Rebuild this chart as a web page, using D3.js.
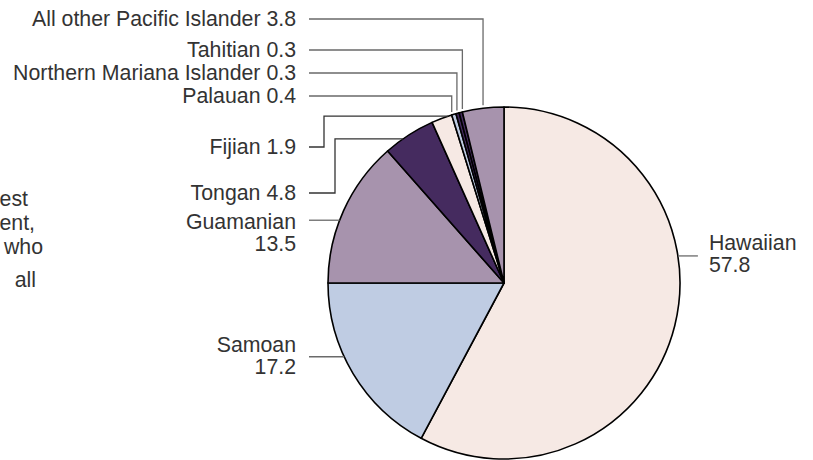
<!DOCTYPE html>
<html>
<head>
<meta charset="utf-8">
<script src="https://cdn.jsdelivr.net/npm/d3@7"></script>
<style>
  html, body { margin: 0; padding: 0; background: #ffffff; }
  svg { display: block; }
  text { font-family: "Liberation Sans", Arial, Helvetica, sans-serif; fill: #333333; }
</style>
</head>
<body>
<svg id="chart" width="813" height="460"></svg>
<script>
// ---- data ----
const categories = ["Hawaiian", "Samoan", "Guamanian", "Tongan", "Fijian", "Palauan",
  "Northern Mariana Islander", "Tahitian", "All other Pacific Islander"];
const values = [57.8, 17.2, 13.5, 4.8, 1.9, 0.4, 0.3, 0.3, 3.8];
const sliceColors = ["#f6e9e4", "#bfcce3", "#a793ad", "#452b5f", "#f6e9e4", "#bfcce3",
  "#452b5f", "#452b5f", "#a793ad"];
// clipped paragraph fragments at the left edge
const sideText = ["est", "ent,", "who", "all"];

// ---- layout ----
const W = 813, H = 460;
const cx = 504, cy = 283, R = 176;
const fontSize = 21.3;
const lineGap = 22;
// per-slice label layout: kind, position within slice (0..1), label line y for routed ones
const labelLayout = [
  { kind: "right", t: 0.39 },
  { kind: "left2c", t: 0.60 },
  { kind: "left2t", t: 0.43 },
  { kind: "elbow", t: 0.37, y: 193, ex: 335 },
  { kind: "elbow", t: 0.82, y: 147, ex: 324 },
  { kind: "drop", t: 0.0, y: 96 },
  { kind: "drop", t: 0.3, y: 73 },
  { kind: "drop", t: 1.0, y: 50 },
  { kind: "drop", t: 0.5, y: 19 }
];
const labelRight = 296, lineStart = 309;

const svg = d3.select("#chart");
const data = categories.map((c, i) => ({ name: c, value: values[i], color: sliceColors[i] }));
const pie = d3.pie().sort(null).value(d => d.value);
const arcs = pie(data);
const arcGen = d3.arc().innerRadius(0).outerRadius(R);

const g = svg.append("g").attr("transform", `translate(${cx},${cy})`);
g.selectAll("path.slice")
  .data(arcs)
  .join("path")
  .attr("class", "slice")
  .attr("d", arcGen)
  .attr("fill", d => d.data.color)
  .attr("stroke", "#000")
  .attr("stroke-width", 1.6)
  .attr("stroke-linejoin", "round");

const pt = (a, r) => [cx + r * Math.sin(a), cy - r * Math.cos(a)];
const lines = svg.append("g").attr("fill", "none");
const labels = svg.append("g").attr("font-size", fontSize);

arcs.forEach((d, i) => {
  const L = labelLayout[i];
  const a = d.startAngle + (d.endAngle - d.startAngle) * L.t;
  const p = pt(a, R);
  const name = d.data.name, val = d3.format(".1f")(d.data.value);
  let path;
  let stroke = "#6a6a6a";
  if (L.kind === "right") {
    path = [[p[0], p[1]], [p[0] + 20, p[1]]];
    const t = labels.append("text").attr("x", p[0] + 31).attr("y", p[1] - 6);
    t.append("tspan").attr("x", p[0] + 31).text(name);
    t.append("tspan").attr("x", p[0] + 31).attr("dy", lineGap).text(val);
  } else if (L.kind === "left2c" || L.kind === "left2t") {
    path = [[lineStart, p[1]], [p[0], p[1]]];
    const y0 = L.kind === "left2c" ? p[1] - 5 : p[1] + 9;
    const t = labels.append("text").attr("text-anchor", "end").attr("y", y0);
    t.append("tspan").attr("x", labelRight).text(name);
    t.append("tspan").attr("x", labelRight).attr("dy", lineGap).text(val);
  } else if (L.kind === "elbow") {
    stroke = "#333";
    path = [[lineStart, L.y], [L.ex, L.y], [L.ex, p[1]], [p[0], p[1]]];
    labels.append("text").attr("text-anchor", "end").attr("x", labelRight).attr("y", L.y + 7)
      .text(name + " " + val);
  } else {
    const dx = p[0] - cx;
    const yEdge = cy - Math.sqrt(R * R - dx * dx) - 3;
    path = [[lineStart, L.y], [p[0], L.y], [p[0], yEdge]];
    labels.append("text").attr("text-anchor", "end").attr("x", labelRight).attr("y", L.y + 7)
      .text(name + " " + val);
  }
  lines.append("path")
    .attr("d", d3.line()(path))
    .attr("stroke", stroke)
    .attr("stroke-width", 1.3);
});

// clipped side paragraph
const sideX = [28, 35, 43, 36];
const sideY = [206, 230, 254, 287];
svg.append("g").attr("font-size", fontSize).selectAll("text")
  .data(sideText)
  .join("text")
  .attr("text-anchor", "end")
  .attr("x", (d, i) => sideX[i])
  .attr("y", (d, i) => sideY[i])
  .text(d => d);
</script>
</body>
</html>
